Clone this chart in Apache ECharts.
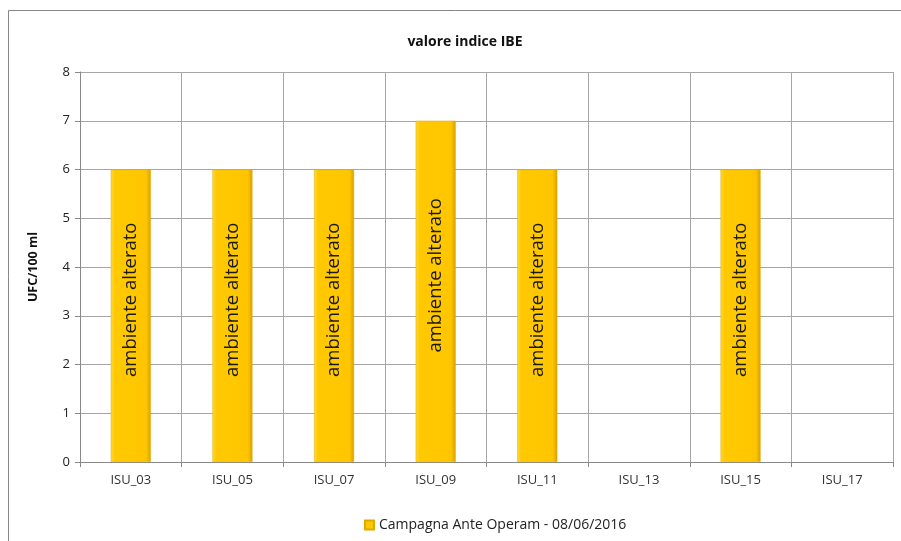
<!DOCTYPE html>
<html>
<head>
<meta charset="utf-8">
<script src="https://cdn.jsdelivr.net/npm/echarts@6/dist/echarts.min.js"></script>
<style>
  html, body { margin: 0; padding: 0; background: #fff; }
  #chart { width: 901px; height: 541px; }
</style>
</head>
<body>
<div id="chart"></div>
<script>
// Stations sampled and IBE index values
const stations = ['ISU_03', 'ISU_05', 'ISU_07', 'ISU_09', 'ISU_11', 'ISU_13', 'ISU_15', 'ISU_17'];
const ibeValues = [6, 6, 6, 7, 6, null, 6, null];
const qualityLabels = ['ambiente alterato', 'ambiente alterato', 'ambiente alterato', 'ambiente alterato',
                       'ambiente alterato', '', 'ambiente alterato', ''];
const yTicks = [0, 1, 2, 3, 4, 5, 6, 7, 8];
const seriesName = 'Campagna Ante Operam - 08/06/2016';

const FONT = 'Open Sans';
const barFill = {
  type: 'linear', x: 0, y: 0, x2: 1, y2: 0,
  colorStops: [
    { offset: 0, color: '#FFDA3A' },
    { offset: 0.1, color: '#FFC900' },
    { offset: 0.88, color: '#FFC600' },
    { offset: 1, color: '#D9A000' }
  ]
};

const chart = echarts.init(document.getElementById('chart'), null, { renderer: 'canvas' });
chart.setOption({
  animation: false,
  backgroundColor: '#fff',
  textStyle: { fontFamily: FONT },
  graphic: [{
    type: 'rect',
    shape: { x: 8.5, y: 10.5, width: 1200, height: 1200 },
    style: { fill: 'none', stroke: '#878787', lineWidth: 1 },
    silent: true,
    z: -1
  }],
  title: {
    text: 'valore indice IBE',
    left: 460, top: 30, textAlign: 'center',
    textStyle: { fontFamily: FONT, fontSize: 14, fontWeight: 'bold', color: '#111' }
  },
  legend: {
    data: [{ name: seriesName, icon: 'rect' }],
    left: 359, top: 513,
    itemWidth: 9, itemHeight: 9, itemGap: 4,
    textStyle: { fontFamily: FONT, fontSize: 14, color: '#222' }
  },
  grid: { left: 80, right: 8, top: 72, bottom: 79, containLabel: false },
  xAxis: {
    type: 'category',
    data: stations,
    boundaryGap: true,
    axisLine: { lineStyle: { color: '#888', width: 1 } },
    axisTick: { show: true, length: 5, lineStyle: { color: '#888' } },
    axisLabel: { fontFamily: FONT, fontSize: 13, color: '#333', margin: 12 },
    splitLine: { show: true, lineStyle: { color: '#a6a6a6', width: 1 } }
  },
  yAxis: {
    type: 'value',
    min: yTicks[0], max: yTicks[yTicks.length - 1], interval: 1,
    name: 'UFC/100 ml',
    nameLocation: 'middle', nameGap: 40, nameRotate: 90,
    nameTextStyle: { fontFamily: FONT, fontSize: 12.5, fontWeight: 'bold', color: '#111' },
    axisLine: { show: true, lineStyle: { color: '#888' } },
    axisTick: { show: true, length: 5, lineStyle: { color: '#888' } },
    axisLabel: { fontFamily: FONT, fontSize: 13, color: '#222', margin: 10 },
    splitLine: { show: true, lineStyle: { color: '#a6a6a6', width: 1 } }
  },
  series: [{
    name: seriesName,
    type: 'bar',
    barWidth: 40,
    data: ibeValues,
    itemStyle: { color: barFill, borderColor: '#E0A800', borderWidth: 0.5 },
    label: {
      show: true,
      position: 'inside',
      rotate: 90,
      align: 'center',
      verticalAlign: 'middle',
      offset: [16, 0],
      fontFamily: FONT,
      fontSize: 18.5,
      color: '#1a1a1a',
      formatter: p => qualityLabels[p.dataIndex]
    }
  }]
});
</script>
</body>
</html>
